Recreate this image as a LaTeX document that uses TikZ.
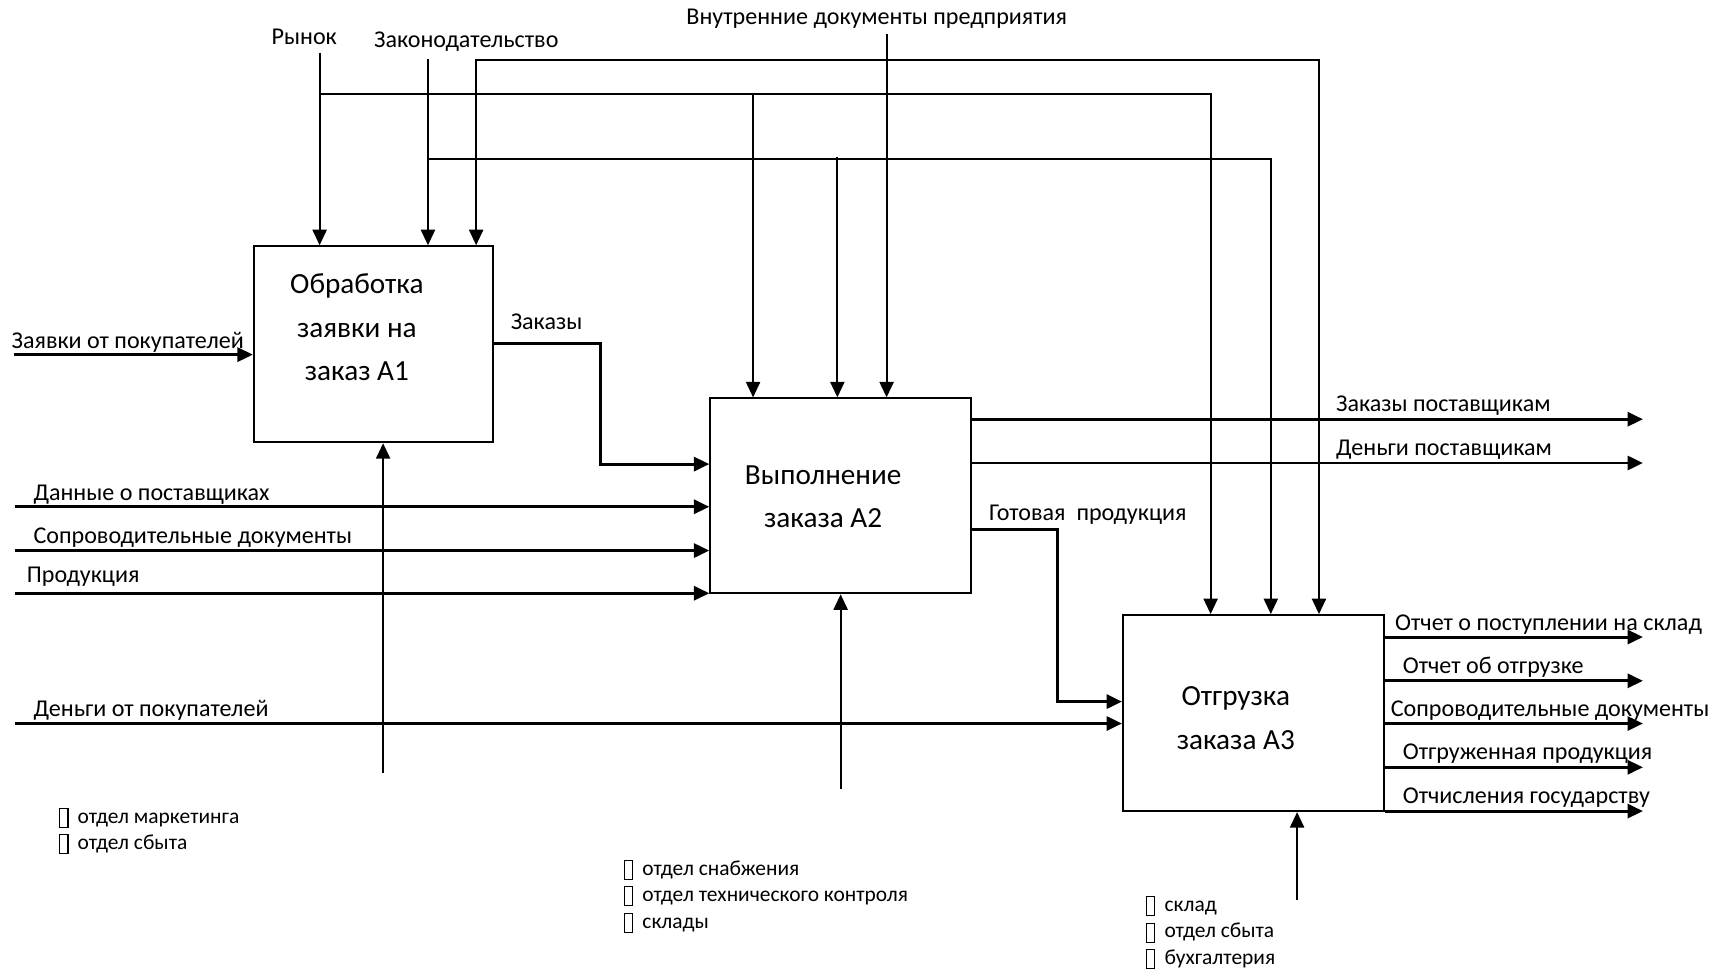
\documentclass[tikz,border=0pt]{standalone}
\usepackage{fontspec}
\setmainfont{Carlito}
\usetikzlibrary{arrows.meta,positioning}
\newcommand{\pxu}{0.010946cm}
\newcommand{\tofu}{{\setlength{\fboxsep}{0pt}\setlength{\fboxrule}{0.3pt}\raisebox{-0.35ex}{\fbox{\rule{0pt}{1.75ex}\hspace{0.75ex}}}}\hspace{2.6pt}}

\begin{document}
\begin{tikzpicture}
[x=\pxu,y=-\pxu,>={Triangle[length=4.4pt,width=4pt]},
 every node/.style={inner sep=0pt},
 func/.style={draw,line width=0.6pt,minimum height=179*\pxu},
 functext/.style={align=center,font=\fontsize{8.3}{12.4}\selectfont},
 flow/.style={->,line width=0.85pt},
 ctrl/.style={->,line width=0.6pt},
 lbl/.style={font=\fontsize{6.85}{8}\selectfont},
 who/.style={align=left,anchor=west,font=\fontsize{6.1}{7.45}\selectfont}]

\useasboundingbox (0,0) rectangle (1565,885);

% functions
\node[func,minimum width=218*\pxu] (A1) at (341,314.5) {};
\node[func,minimum width=238*\pxu,minimum height=178*\pxu] (A2) at (768,453) {};
\node[func,minimum width=238*\pxu] (A3) at (1145,651.5) {};
\node[functext] (t1) at (326,299) {Обработка\\заявки на\\заказ A1};
\node[functext] (t2) at (752,454) {Выполнение\\заказа A2};
\node[functext] (t3) at (1129,656) {Отгрузка\\заказа A3};

% controls
\node[lbl] (lRynok) at (278,34) {Рынок};
\node[lbl] (lZakon) at (426,38) {Законодательство};
\node[lbl] (lVnutr) at (801,17) {Внутренние документы предприятия};
\coordinate (rynok) at (292,48);
\coordinate (zakon) at (391,54);
\coordinate (vnutr) at (810,31);

\draw[ctrl] (rynok) -- (rynok |- A1.north);
\draw[ctrl] (rynok |- 0,86) -| (1106,0 |- A3.north);
\draw[ctrl] (688,86) -- (688,0 |- A2.north);
\draw[ctrl] (zakon) -- (zakon |- A1.north);
\draw[ctrl] (zakon |- 0,145) -| (1161,0 |- A3.north);
\draw[ctrl] (765,143) -- (765,0 |- A2.north);
\draw[ctrl] (vnutr) -- (vnutr |- A2.north);
\draw[ctrl] (vnutr |- 0,55) -| (435,0 |- A1.north);
\draw[ctrl] (vnutr |- 0,55) -| (1205,0 |- A3.north);

% inputs
\coordinate (zayav) at (13,324);
\draw[flow] (zayav) -- (zayav -| A1.west);
\node[lbl,anchor=west] (lZayav) at (10,313) {Заявки от покупателей};
\draw[flow] (A1.east |- 0,314) -| (549,424) -- (A2.west |- 0,424);
\node[lbl,anchor=west] (lZakazy) at (466,294) {Заказы};
\foreach \y/\name/\lx/\ly/\txt in {463/dannye/30/452/Данные о поставщиках,
    503/soprov/30/491/Сопроводительные документы,
    542/prod/24/527/Продукция}{
  \coordinate (\name) at (14,\y);
  \draw[flow] (\name) -- (\name -| A2.west);
  \node[lbl,anchor=west] (l\name) at (\lx,\ly) {\txt};
}
\coordinate (dengi) at (14,661);
\draw[flow] (dengi) -- (dengi -| A3.west);
\node[lbl,anchor=west] (lDengi) at (30,649) {Деньги от покупателей};

% outputs
\coordinate (zpost) at (1501,383);
\coordinate (dpost) at (1501,423);
\draw[flow] (A2.east |- zpost) -- (zpost);
\draw[flow] (A2.east |- dpost) -- (dpost);
\node[lbl,anchor=west] (lZpost) at (1220,371) {Заказы поставщикам};
\node[lbl,anchor=west] (lDpost) at (1220,411) {Деньги поставщикам};
\draw[flow] (A2.east |- 0,484) -| (966,641) -- (A3.west |- 0,641);
\node[lbl,anchor=west] (lGotov) at (903,470) {Готовая\ \ продукция};
\foreach \y/\lx/\ly/\txt [count=\i] in {582/1274/571/Отчет о поступлении на склад,
    622/1281/610/Отчет об отгрузке,
    661/1270/649/Сопроводительные документы,
    701/1281/689/Отгруженная продукция,
    741/1281/729/Отчисления государству}{
  \coordinate (out\i) at (1501,\y);
  \draw[flow] (A3.east |- out\i) -- (out\i);
  \node[lbl,anchor=west] (lOut\i) at (\lx,\ly) {\txt};
}

% mechanisms
\coordinate (m1) at (350,706);
\coordinate (m2) at (768,721);
\coordinate (m3) at (1185,822);
\draw[ctrl] (m1) -- (m1 |- A1.south);
\draw[ctrl] (m2) -- (m2 |- A2.south);
\draw[ctrl] (m3) -- (m3 |- A3.south);
\node[who] (w1) at (53,759) {\tofu отдел маркетинга\\\tofu отдел сбыта};
\node[who] (w2) at (569,819) {\tofu отдел снабжения\\\tofu отдел технического контроля\\\tofu склады};
\node[who] (w3) at (1046,852) {\tofu склад\\\tofu отдел сбыта\\\tofu бухгалтерия};
\end{tikzpicture}
\end{document}
